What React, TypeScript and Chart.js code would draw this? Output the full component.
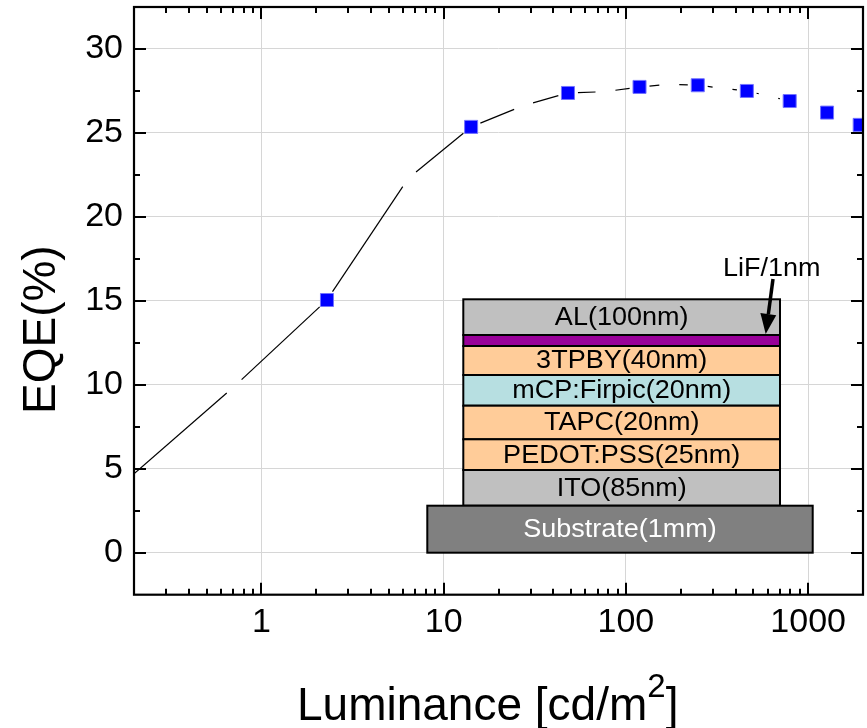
import React, { useEffect, useRef } from 'react';
import { Chart, registerables } from 'chart.js';

Chart.register(...registerables);

// ---- data ----
const markerLum = [2.29, 14.15, 48.1, 118.8, 248, 461, 792, 1270, 1918];
const markerEQE = [15.05, 25.36, 27.38, 27.74, 27.84, 27.5, 26.9, 26.21, 25.48];

const curveLum = [0.2, 0.71, 2.29, 6.4, 14.15, 27.4, 48.1, 77.3, 118.8, 173, 248, 339, 461, 606, 792, 1000];
const curveEQE = [4.7, 9.9, 15.05, 22.3, 25.36, 26.63, 27.38, 27.46, 27.74, 27.9, 27.84, 27.66, 27.5, 27.2, 26.9, 26.6];

const xMajorTicks = [1, 10, 100, 1000];
const yMajorTicks = [0, 5, 10, 15, 20, 25, 30];

const layerLabels = ['AL(100nm)', '', '3TPBY(40nm)', 'mCP:Firpic(20nm)', 'TAPC(20nm)', 'PEDOT:PSS(25nm)', 'ITO(85nm)'];
const layerColors = ['#c0c0c0', '#990099', '#ffcc99', '#b7dfe1', '#ffcc99', '#ffcc99', '#c0c0c0'];
const substrateLabel = 'Substrate(1mm)';
const lifLabel = 'LiF/1nm';

const xTitle = 'Luminance [cd/m';
const xTitleSup = '2';
const xTitleEnd = ']';
const yTitle = 'EQE(%)';

const FONT = '"Liberation Sans", Arial, Helvetica, sans-serif';

const GAP = 10;
function dashFor(c: any) {
  const L = Math.hypot(c.p1.x - c.p0.x, c.p1.y - c.p0.y);
  const g0 = c.p0DataIndex === 0 ? 0 : GAP;
  const g1 = GAP;
  const d = Math.max(L - g0 - g1, 0.01);
  const G = g0 + g1 + 2000;
  return { dash: [d, G], offset: d + G - g0 };
}

const decorPlugin = {
  id: 'decor',
  afterDraw(chart: any) {
    const { ctx, chartArea: a, scales } = chart;
    const xs = scales.x;
    const ys = scales.y;
    ctx.save();

    // ---- inset device structure ----
    const sL = 463.3, sR = 780;
    const bounds = [299.3, 335, 346, 375, 405.7, 439.3, 470, 505.7];
    ctx.lineWidth = 2;
    ctx.strokeStyle = '#000';
    for (let i = 0; i < layerLabels.length; i++) {
      const t = bounds[i], b = bounds[i + 1];
      ctx.fillStyle = layerColors[i];
      ctx.fillRect(sL, t, sR - sL, b - t);
      ctx.strokeRect(sL, t, sR - sL, b - t);
    }
    const subL = 427.3, subR = 812.7, subT = 505.7, subB = 552.7;
    ctx.fillStyle = '#808080';
    ctx.fillRect(subL, subT, subR - subL, subB - subT);
    ctx.strokeRect(subL, subT, subR - subL, subB - subT);

    const drawText = (txt: string, cx: number, cy: number, color: string, size: number, align = 'center') => {
      ctx.save();
      ctx.translate(cx, cy);
      ctx.scale(1.08, 1);
      ctx.font = `${size}px ${FONT}`;
      ctx.fillStyle = color;
      ctx.textAlign = align;
      ctx.textBaseline = 'middle';
      ctx.fillText(txt, 0, 0);
      ctx.restore();
    };
    for (let i = 0; i < layerLabels.length; i++) {
      if (!layerLabels[i]) continue;
      drawText(layerLabels[i], (sL + sR) / 2, (bounds[i] + bounds[i + 1]) / 2 + 1, '#000', 25);
    }
    drawText(substrateLabel, (subL + subR) / 2, (subT + subB) / 2 + 1, '#fff', 25);
    drawText(lifLabel, 723, 269, '#000', 25, 'left');

    // arrow
    const ax0 = 773, ay0 = 279, ax1 = 765.7, ay1 = 334;
    const ang = Math.atan2(ay1 - ay0, ax1 - ax0);
    const hl = 20, hw = 8;
    const bx = ax1 - hl * Math.cos(ang), by = ay1 - hl * Math.sin(ang);
    ctx.lineWidth = 3.5;
    ctx.beginPath();
    ctx.moveTo(ax0, ay0);
    ctx.lineTo(bx, by);
    ctx.stroke();
    ctx.fillStyle = '#000';
    ctx.beginPath();
    ctx.moveTo(ax1, ay1);
    ctx.lineTo(bx + hw * Math.sin(ang), by - hw * Math.cos(ang));
    ctx.lineTo(bx - hw * Math.sin(ang), by + hw * Math.cos(ang));
    ctx.closePath();
    ctx.fill();

    // ---- frame & ticks ----
    ctx.strokeStyle = '#000';
    ctx.lineWidth = 2;
    const seg = (x0: number, y0: number, x1: number, y1: number) => {
      ctx.beginPath();
      ctx.moveTo(x0, y0);
      ctx.lineTo(x1, y1);
      ctx.stroke();
    };
    for (let e = -1; e <= 3; e++) {
      for (let m = 1; m <= 9; m++) {
        const v = m * Math.pow(10, e);
        if (v <= 0.2 + 1e-9 || v >= 2000 - 1e-9) continue;
        const px = Math.round(xs.getPixelForValue(v));
        const len = m === 1 ? 12 : 6;
        seg(px, a.bottom, px, a.bottom - len);
        seg(px, a.top, px, a.top + len);
      }
    }
    for (let k = -1; k <= 13; k++) {
      const v = k * 2.5;
      if (v <= -2.5 || v >= 32.5) continue;
      const py = Math.round(ys.getPixelForValue(v));
      const len = k % 2 === 0 ? 12 : 6;
      seg(a.left, py, a.left + len, py);
      seg(a.right, py, a.right - len, py);
    }
    ctx.lineWidth = 2.2;
    ctx.strokeRect(a.left, a.top, a.right - a.left, a.bottom - a.top);

    // ---- axis titles ----
    ctx.fillStyle = '#000';
    ctx.textBaseline = 'alphabetic';
    ctx.textAlign = 'left';
    ctx.font = `46px ${FONT}`;
    let x = 297;
    const base = 719.5;
    ctx.fillText(xTitle, x, base);
    x += ctx.measureText(xTitle).width;
    ctx.font = `33px ${FONT}`;
    ctx.fillText(xTitleSup, x, base - 23);
    x += ctx.measureText(xTitleSup).width;
    ctx.font = `46px ${FONT}`;
    ctx.fillText(xTitleEnd, x, base);

    ctx.save();
    ctx.translate(55, 414);
    ctx.rotate(-Math.PI / 2);
    ctx.font = `46px ${FONT}`;
    ctx.textAlign = 'left';
    ctx.textBaseline = 'alphabetic';
    ctx.fillText(yTitle, 0, 0);
    ctx.restore();

    ctx.restore();
  },
};

const zeroPad = (s: any) => {
  s.paddingTop = 0;
  s.paddingBottom = 0;
  s.paddingLeft = 0;
  s.paddingRight = 0;
};

export default function App() {
  const ref = useRef<HTMLCanvasElement>(null);
  useEffect(() => {
    const canvas = ref.current!;
    const chart = new Chart(canvas, {
      type: 'scatter',
      data: {
        datasets: [
          {
            label: 'EQE',
            data: markerLum.map((v, i) => ({ x: v, y: markerEQE[i] })),
            showLine: false,
            pointStyle: 'rect',
            pointRadius: 9.2,
            pointHoverRadius: 9.2,
            backgroundColor: '#0000ff',
            borderColor: '#7373ff',
            borderWidth: 1,
          },
          {
            label: 'fit',
            data: curveLum.map((v, i) => ({ x: v, y: curveEQE[i] })),
            showLine: true,
            pointRadius: 0,
            borderColor: '#000',
            borderWidth: 1.2,
            tension: 0,
            segment: {
              borderDash: (c: any) => dashFor(c).dash,
              borderDashOffset: (c: any) => dashFor(c).offset,
            },
          } as any,
        ],
      },
      options: {
        responsive: false,
        devicePixelRatio: 1,
        animation: false,
        events: [],
        layout: { autoPadding: false, padding: { top: 7, right: 4, left: 0, bottom: 0 } },
        plugins: { legend: { display: false }, tooltip: { enabled: false } },
        scales: {
          x: {
            type: 'logarithmic',
            min: 0.2,
            max: 2000,
            afterBuildTicks: (s: any) => {
              s.ticks = xMajorTicks.map((v) => ({ value: v }));
            },
            afterFit: (s: any) => {
              s.height = 133.3;
              zeroPad(s);
            },
            ticks: {
              autoSkip: false,
              maxRotation: 0,
              padding: 8,
              color: '#000',
              font: { family: FONT, size: 34 },
              callback: (v: any) => String(v),
            },
            grid: { color: '#d6d6d6', lineWidth: 1, drawTicks: false },
            border: { display: false },
          },
          y: {
            type: 'linear',
            min: -2.5,
            max: 32.5,
            afterBuildTicks: (s: any) => {
              s.ticks = yMajorTicks.map((v) => ({ value: v }));
            },
            afterFit: (s: any) => {
              s.width = 134;
              zeroPad(s);
            },
            ticks: {
              autoSkip: false,
              padding: 11,
              color: '#000',
              font: { family: FONT, size: 34 },
              callback: (v: any) => String(v),
            },
            grid: { color: '#d6d6d6', lineWidth: 1, drawTicks: false },
            border: { display: false },
          },
        },
      } as any,
      plugins: [decorPlugin],
    });
    return () => chart.destroy();
  }, []);
  return (
    <div style={{ position: 'absolute', left: 0, top: 0, width: 867, height: 728, background: '#fff' }}>
      <canvas ref={ref} width={867} height={728} style={{ display: 'block', width: 867, height: 728 }} />
    </div>
  );
}
